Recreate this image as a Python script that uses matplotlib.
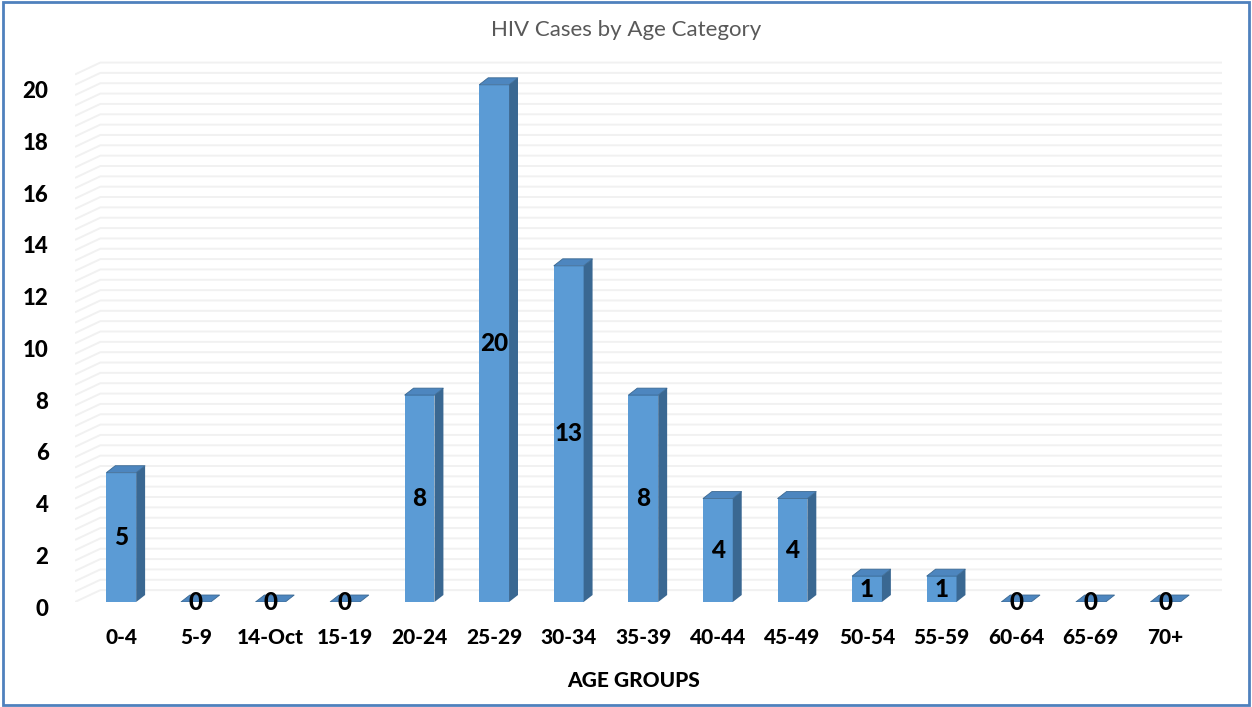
import numpy as np
import matplotlib
matplotlib.use('Agg')
import matplotlib.pyplot as plt
import matplotlib.transforms as mtransforms
from matplotlib.patches import Polygon, Rectangle

plt.rcParams['font.family'] = ['Lato', 'DejaVu Sans']

# data
age_groups = ['0-4', '5-9', '14-Oct', '15-19', '20-24', '25-29', '30-34', '35-39',
              '40-44', '45-49', '50-54', '55-59', '60-64', '65-69', '70+']
cases = [5, 0, 0, 0, 8, 20, 13, 8, 4, 4, 1, 1, 0, 0, 0]
y_ticks = [0, 2, 4, 6, 8, 10, 12, 14, 16, 18, 20]

front_col = '#5b9bd5'
side_col = '#3a6892'
top_col = '#4d86bf'
grid_col = '#f1f1f1'

fig = plt.figure(figsize=(12.52, 7.07), dpi=100)
ax = fig.add_axes([75 / 1252, 105 / 707, 1147 / 1252, 556 / 707])
ax.set_xlim(-0.62, 14.76)
ax.set_ylim(0, 21.5)

x = np.arange(len(age_groups))
w = 0.40      # front face width
dx = 0.12     # bar depth, x
dy = 0.27     # bar depth, y

# back wall + side wall gridlines (3D look)
wall_dx = 0.34
wall_dy = 0.46
x_left, x_right = ax.get_xlim()
for v in np.arange(0, 20.5, 0.4):
    ax.plot([x_left, x_left + wall_dx, x_right], [v, v + wall_dy, v + wall_dy],
            color=grid_col, lw=1.4, zorder=0, solid_capstyle='butt')

# bars: front face, side face and top face
ax.bar(x, cases, width=w, color=front_col, zorder=2)
for xi, v in zip(x, cases):
    r = xi + w / 2
    l = xi - w / 2
    side = Polygon([(r, 0), (r + dx, dy), (r + dx, v + dy), (r, v)],
                   closed=True, facecolor=side_col, edgecolor='none', zorder=2)
    top = Polygon([(l, v), (r, v), (r + dx, v + dy), (l + dx, v + dy)],
                  closed=True, facecolor=top_col, edgecolor=side_col,
                  lw=0.6, zorder=2)
    ax.add_patch(side)
    ax.add_patch(top)
    ax.text(xi, v / 2, str(v), ha='center', va='center', fontsize=17.5,
            fontweight='black', color='black', zorder=3)

for s in ax.spines.values():
    s.set_visible(False)

ax.set_xticks(x)
ax.set_xticklabels(age_groups, fontsize=15, fontweight='black')
ax.set_yticks(y_ticks)
ax.set_yticklabels([str(t) for t in y_ticks], fontsize=16, fontweight='black')
ax.tick_params(axis='x', length=0, pad=19)
ax.tick_params(axis='y', length=0, pad=19)
shift = mtransforms.ScaledTranslation(0, -5 / 100, fig.dpi_scale_trans)
for lab in ax.get_yticklabels():
    lab.set_transform(lab.get_transform() + shift)

ax.set_xlabel('AGE GROUPS', fontsize=15, fontweight='black')
ax.xaxis.set_label_coords((634 - 75) / 1147, -(671 - 602) / 556)

fig.text(626 / 1252, 1 - 30 / 707, 'HIV Cases by Age Category', ha='center',
         va='center', fontsize=16, color='#595959')

fig.patches.append(Rectangle((0.002, 0.003), 0.996, 0.994, transform=fig.transFigure,
                             fill=False, edgecolor='#4f81bd', lw=2))

fig.savefig('out.png', dpi=100)
